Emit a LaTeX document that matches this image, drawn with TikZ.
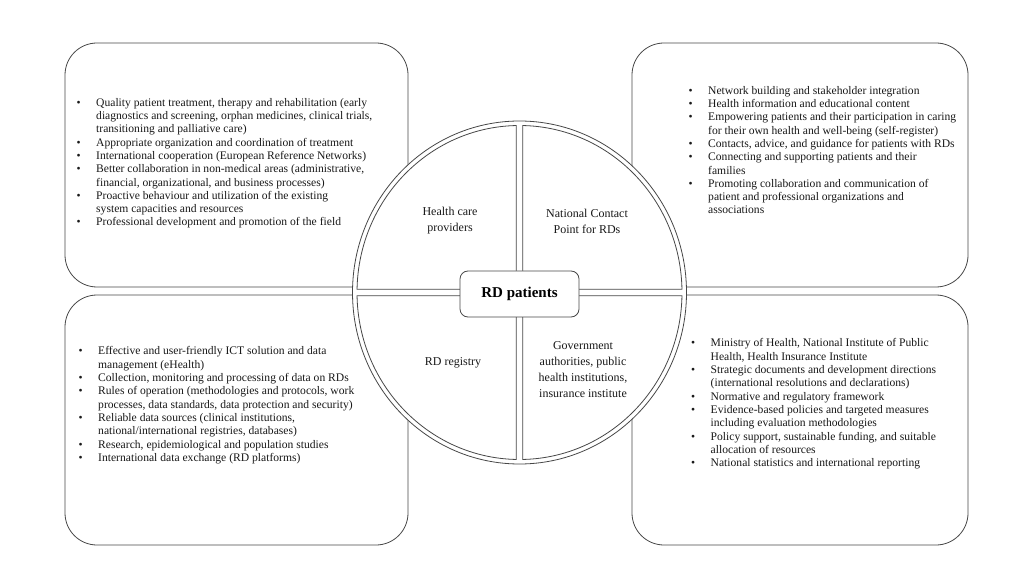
\documentclass[tikz,border=0pt]{standalone}
\usepackage{fontspec}
\setmainfont{Liberation Serif}
\usetikzlibrary{calc}
\newcommand{\listfont}{\fontsize{11.6}{13.3}\selectfont}
\newcommand{\labfont}{\fontsize{12}{16}\selectfont}
\newlength{\bulw}
\newcommand{\myb}{\makebox[\bulw][l]{•}}
\newcommand{\myc}{\hspace*{\bulw}}
\tikzset{
  boxline/.style={draw=black!72, line width=0.8pt},
  roundbox/.style={boxline, rounded corners=32pt, minimum width=343pt, minimum height=244pt, inner sep=0pt},
  listtext/.style={anchor=north west, inner sep=0pt, align=left, font=\listfont, text=black!90},
  labeltext/.style={align=center, inner sep=0pt, font=\labfont, text=black!90},
}
\begin{document}
\begin{tikzpicture}[x=1pt,y=1pt]
\useasboundingbox[fill=white] (0,0) rectangle (1024,576);
% outer boxes
\node[roundbox] (tl) at (236.5,411) {};
\node[roundbox, minimum width=336pt] (tr) at (800,411) {};
\node[roundbox, minimum height=250pt] (bl) at (236.5,156) {};
\node[roundbox, minimum width=336pt, minimum height=250pt] (br) at (800,156) {};
% lists
\setlength{\bulw}{19.5pt}
\node[listtext] (tltext) at (76.5,479.3) {\strut\myb Quality patient treatment, therapy and rehabilitation  (early\\
\myc diagnostics and screening, orphan medicines, clinical trials,\\
\myc transitioning and palliative care)\\
\myb Appropriate organization and coordination of treatment\\
\myb International cooperation (European Reference Networks)\\
\myb Better collaboration in non-medical areas (administrative,\\
\myc financial, organizational, and business processes)\\
\myb Proactive behaviour and utilization of the existing\\
\myc system capacities and resources\\
\myb Professional development and promotion of the field};
\node[listtext] (trtext) at (688.5,491.3) {\strut\myb Network building and stakeholder integration\\
\myb Health information and educational content\\
\myb Empowering patients and their participation in caring\\
\myc for their own health and well-being (self-register)\\
\myb Contacts, advice, and guidance for patients with RDs\\
\myb Connecting and supporting patients and their\\
\myc families\\
\myb Promoting collaboration and communication of\\
\myc patient and professional organizations and\\
\myc associations};
\node[listtext] (bltext) at (78.5,230.6) {\strut\myb Effective and user-friendly ICT solution and data\\
\myc management (eHealth)\\
\myb Collection, monitoring and processing of data on RDs\\
\myb Rules of operation (methodologies and protocols, work\\
\myc processes, data standards, data protection and security)\\
\myb Reliable data sources (clinical institutions,\\
\myc national/international registries, databases)\\
\myb Research, epidemiological and population studies\\
\myb International data exchange (RD platforms)};
\node[listtext] (brtext) at (691,238.6) {\strut\myb Ministry of Health, National Institute of Public\\
\myc Health, Health Insurance Institute\\
\myb Strategic documents and development directions\\
\myc (international resolutions and declarations)\\
\myb Normative and regulatory framework\\
\myb Evidence-based policies and targeted measures\\
\myc including evaluation methodologies\\
\myb Policy support, sustainable funding, and suitable\\
\myc allocation of resources\\
\myb National statistics and international reporting};
% circle
\coordinate (c) at (519.5,283.5);
\draw[boxline, fill=white] (c) ellipse [x radius=167pt, y radius=171.5pt];
\draw[boxline] ($(c)+(3.3pt,3.3pt)$) -- ($(c)+(1.13:162.5pt and 167pt)$) arc[start angle=1.13, end angle=88.84, x radius=162.5pt, y radius=167pt] -- cycle;
\draw[boxline] ($(c)+(-3.3pt,3.3pt)$) -- ($(c)+(91.16:162.5pt and 167pt)$) arc[start angle=91.16, end angle=178.87, x radius=162.5pt, y radius=167pt] -- cycle;
\draw[boxline] ($(c)+(-3.3pt,-3.3pt)$) -- ($(c)+(181.13:162.5pt and 167pt)$) arc[start angle=181.13, end angle=268.84, x radius=162.5pt, y radius=167pt] -- cycle;
\draw[boxline] ($(c)+(3.3pt,-3.3pt)$) -- ($(c)+(271.16:162.5pt and 167pt)$) arc[start angle=271.16, end angle=358.87, x radius=162.5pt, y radius=167pt] -- cycle;
% labels
\node[labeltext] (hc) at (450,355) {Health care\\providers};
\node[labeltext] (ncp) at (587,355) {National Contact\\Point for RDs};
\node[labeltext] (reg) at (453,213) {RD registry};
\node[labeltext] (gov) at (583,206) {Government\\authorities, public\\health institutions,\\insurance institute};
\node[boxline, fill=white, rounded corners=8pt, minimum width=119pt, minimum height=46pt, inner sep=0pt, font=\bfseries\fontsize{15}{18}\selectfont] (rd) at (519.5,282) {RD patients};
\end{tikzpicture}
\end{document}
